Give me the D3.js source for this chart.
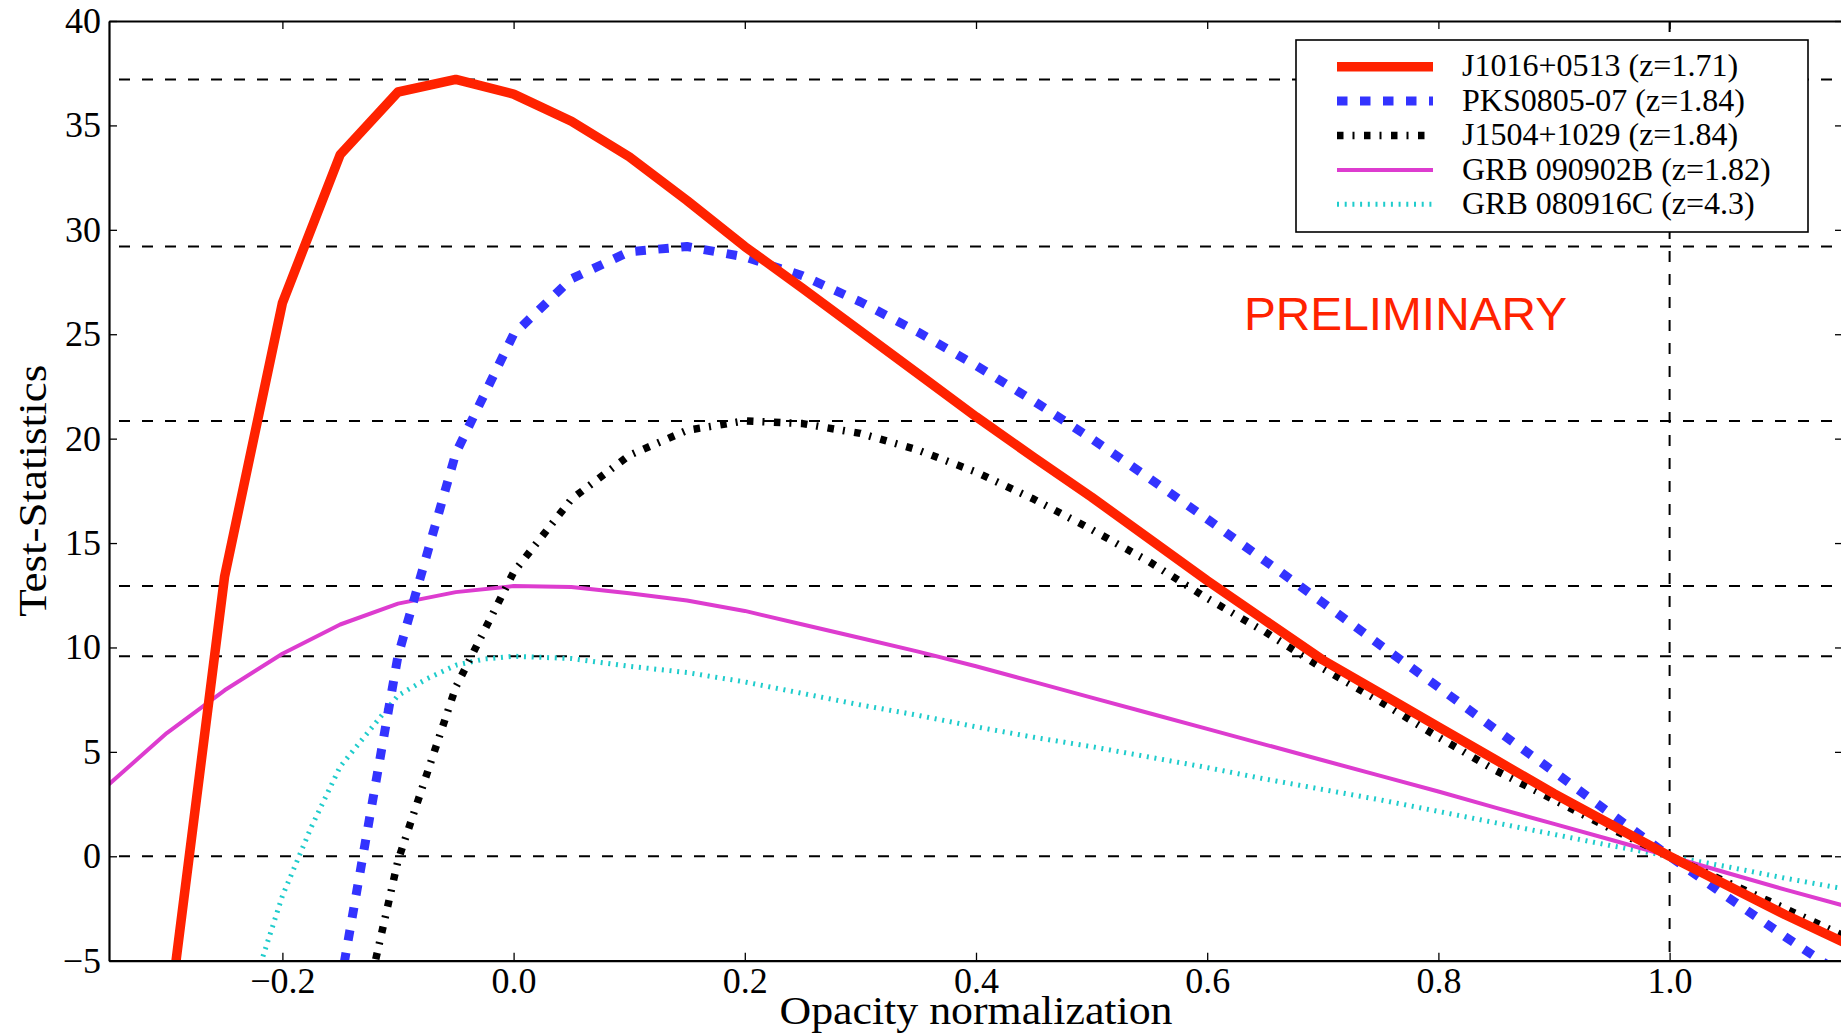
<!DOCTYPE html>
<html>
<head>
<meta charset="utf-8">
<script src="https://cdn.jsdelivr.net/npm/d3@7"></script>
<style>
  html, body { margin: 0; padding: 0; background: #ffffff; }
  svg { display: block; }
</style>
</head>
<body>
<svg id="chart" width="1841" height="1033"></svg>
<script>
// ---------------- DATA ----------------
// Opacity normalization grid shared by four of the curves
const opacity = [-0.35, -0.30, -0.25, -0.20, -0.15, -0.10, -0.05, 0.00, 0.05, 0.10,
                 0.15, 0.20, 0.25, 0.30, 0.35, 0.40, 0.45, 0.50, 0.55, 0.60,
                 0.65, 0.70, 0.75, 0.80, 0.85, 0.90, 0.95, 1.00, 1.05, 1.10, 1.15];

// J1016+0513 (z=1.71)
const tsJ1016 = [null, -8.5, 13.4, 26.5, 33.6, 36.6, 37.2, 36.5, 35.2, 33.5,
                 31.4, 29.2, 27.2, 25.15, 23.1, 21.05, 19.1, 17.2, 15.2, 13.2,
                 11.3, 9.4, 7.8, 6.2, 4.6, 3.0, 1.5, 0.0, -1.4, -2.8, -4.1];

// PKS0805-07 (z=1.84)
const tsPKS0805 = [null, null, null, null, -6.2, 9.6, 19.3, 25.0, 27.65, 28.95,
                   29.2, 28.7, 27.8, 26.55, 25.1, 23.5, 21.8, 20.0, 18.1, 16.15,
                   14.15, 12.15, 10.1, 8.1, 6.05, 4.05, 2.0, 0.0, -1.95, -3.85, -5.7];

// J1504+1029 (z=1.84)
const tsJ1504 = [null, null, null, null, -12.5, -0.2, 8.1, 13.6, 17.1, 19.2,
                 20.4, 20.85, 20.72, 20.25, 19.45, 18.4, 17.1, 15.65, 14.1, 12.35,
                 10.75, 9.0, 7.4, 5.7, 4.1, 2.7, 1.3, 0.0, -1.25, -2.5, -3.8];

// GRB 090902B (z=1.82)
const tsGRB090902B = [3.45, 5.9, 7.95, 9.7, 11.1, 12.1, 12.65, 12.94, 12.9, 12.6,
                      12.25, 11.75, 11.1, 10.45, 9.8, 9.1, 8.35, 7.6, 6.85, 6.1,
                      5.35, 4.6, 3.85, 3.1, 2.32, 1.55, 0.78, 0.0, -0.8, -1.6, -2.35];

// GRB 080916C (z=4.3) has its own, finer grid at the low end
const opacityGRB080916C = [-0.225, -0.20, -0.175, -0.15, -0.125, -0.10, -0.075, -0.05, -0.025,
                           0.00, 0.05, 0.10, 0.15, 0.20, 0.25, 0.30, 0.35, 0.40, 0.45, 0.50,
                           0.55, 0.60, 0.65, 0.70, 0.75, 0.80, 0.85, 0.90, 0.95, 1.00,
                           1.05, 1.10, 1.15];
const tsGRB080916C = [-6.2, -1.9, 1.4, 4.3, 6.0, 7.7, 8.5, 9.15, 9.45,
                      9.58, 9.47, 9.1, 8.8, 8.35, 7.8, 7.25, 6.75, 6.2, 5.7, 5.25,
                      4.75, 4.25, 3.7, 3.2, 2.7, 2.15, 1.6, 1.05, 0.5, 0.0,
                      -0.5, -1.05, -1.55];

const seriesNames = ["J1016+0513 (z=1.71)", "PKS0805-07 (z=1.84)", "J1504+1029 (z=1.84)",
                     "GRB 090902B (z=1.82)", "GRB 080916C (z=4.3)"];

const xTicks = [-0.2, 0.0, 0.2, 0.4, 0.6, 0.8, 1.0];
const yTicks = [-5, 0, 5, 10, 15, 20, 25, 30, 35, 40];
const xDomain = [-0.35, 1.15];
const yDomain = [-5, 40];
const referenceOpacity = 1.0;

// ---------------- STYLES ----------------
const styles = [
  { color: "#ff2200", width: 9.5, dash: null },
  { color: "#3333ff", width: 9,   dash: "10.5,12.5" },
  { color: "#000000", width: 7.5, dash: "6.5,9,2,9.5" },
  { color: "#dd3ccf", width: 4,   dash: null },
  { color: "#1fcccc", width: 5,   dash: "2,5.7" }
];
const serifFont = "'Liberation Serif', 'Times New Roman', serif";

// ---------------- BUILD ----------------
const series = [
  opacity.map((o, i) => [o, tsJ1016[i]]),
  opacity.map((o, i) => [o, tsPKS0805[i]]),
  opacity.map((o, i) => [o, tsJ1504[i]]),
  opacity.map((o, i) => [o, tsGRB090902B[i]]),
  opacityGRB080916C.map((o, i) => [o, tsGRB080916C[i]])
];

const svg = d3.select("#chart");
const plotL = 109, plotR = 1843, plotT = 21, plotB = 960.7;

const x = d3.scaleLinear().domain(xDomain).range([plotL, plotR]);
const y = d3.scaleLinear().domain(yDomain).range([plotB, plotT]);

svg.append("rect").attr("width", 1841).attr("height", 1033).attr("fill", "#ffffff");

svg.append("defs").append("clipPath").attr("id", "plotClip")
  .append("rect").attr("x", plotL).attr("y", plotT)
  .attr("width", plotR - plotL).attr("height", plotB - plotT);

const plot = svg.append("g").attr("clip-path", "url(#plotClip)");

// Horizontal dashed reference lines at each curve maximum and at zero
const hLevels = series.map(s => d3.max(s, d => d[1])).concat([0]);
plot.selectAll("line.hlevel").data(hLevels).enter().append("line")
  .attr("class", "hlevel")
  .attr("x1", x(xDomain[0])).attr("x2", x(xDomain[1]))
  .attr("y1", d => y(d)).attr("y2", d => y(d))
  .attr("stroke", "#000").attr("stroke-width", 2)
  .attr("stroke-dasharray", "11,12").attr("stroke-dashoffset", 13);

// Vertical dashed line at opacity normalization 1
plot.append("line")
  .attr("x1", x(referenceOpacity)).attr("x2", x(referenceOpacity))
  .attr("y1", y(yDomain[1])).attr("y2", y(yDomain[0]))
  .attr("stroke", "#000").attr("stroke-width", 2)
  .attr("stroke-dasharray", "11,12");

// Curves (drawn last-to-first so the legend's first entry is on top)
const line = d3.line()
  .defined(d => d[1] !== null)
  .x(d => x(d[0])).y(d => y(d[1]));

for (let i = series.length - 1; i >= 0; i--) {
  const st = styles[i];
  const p = plot.append("path").datum(series[i])
    .attr("d", line)
    .attr("fill", "none")
    .attr("stroke", st.color)
    .attr("stroke-width", st.width)
    .attr("stroke-linejoin", "round")
    .attr("stroke-linecap", "butt");
  if (st.dash) p.attr("stroke-dasharray", st.dash);
}

// ---------------- AXES ----------------
const fmtX = d3.format(".1f");
const fmtY = d3.format("d");

const axB = svg.append("g").attr("transform", `translate(0,${plotB})`)
  .call(d3.axisBottom(x).tickValues(xTicks).tickFormat(fmtX).tickSize(-8).tickSizeOuter(0).tickPadding(7));
const axT = svg.append("g").attr("transform", `translate(0,${plotT})`)
  .call(d3.axisTop(x).tickValues(xTicks).tickFormat("").tickSize(-8).tickSizeOuter(0));
const axL = svg.append("g").attr("transform", `translate(${plotL},0)`)
  .call(d3.axisLeft(y).tickValues(yTicks).tickFormat(fmtY).tickSize(-8).tickSizeOuter(0).tickPadding(8));
const axR = svg.append("g").attr("transform", `translate(${plotR},0)`)
  .call(d3.axisRight(y).tickValues(yTicks).tickFormat("").tickSize(-8).tickSizeOuter(0));

[axB, axT, axL, axR].forEach(g => {
  g.select(".domain").attr("stroke", "#000").attr("stroke-width", 2.2);
  g.selectAll(".tick line").attr("stroke", "#000").attr("stroke-width", 1.3);
  g.selectAll(".tick text").attr("font-family", serifFont).attr("font-size", 36).attr("fill", "#000");
});

// Axis titles
svg.append("text")
  .attr("x", (plotL + plotR) / 2).attr("y", 1024)
  .attr("text-anchor", "middle")
  .attr("font-family", serifFont).attr("font-size", 40)
  .attr("textLength", 393).attr("lengthAdjust", "spacingAndGlyphs")
  .text("Opacity normalization");

svg.append("text")
  .attr("transform", `translate(46,${(plotT + plotB) / 2}) rotate(-90)`)
  .attr("text-anchor", "middle")
  .attr("font-family", serifFont).attr("font-size", 40)
  .attr("textLength", 252).attr("lengthAdjust", "spacingAndGlyphs")
  .text("Test-Statistics");

// PRELIMINARY watermark
svg.append("text")
  .attr("x", 1244).attr("y", 330)
  .attr("font-family", "'Liberation Sans', Arial, sans-serif").attr("font-size", 47)
  .attr("fill", "#ff2200")
  .attr("textLength", 323).attr("lengthAdjust", "spacingAndGlyphs")
  .text("PRELIMINARY");

// ---------------- LEGEND ----------------
const legend = svg.append("g");
legend.append("rect")
  .attr("x", 1296).attr("y", 40).attr("width", 512).attr("height", 192)
  .attr("fill", "#ffffff").attr("stroke", "#000").attr("stroke-width", 1.6);

seriesNames.forEach((name, i) => {
  const ry = 66.7 + i * 34.4;
  const st = styles[i];
  const l = legend.append("line")
    .attr("x1", 1337).attr("x2", 1433).attr("y1", ry).attr("y2", ry)
    .attr("stroke", st.color).attr("stroke-width", st.width);
  if (st.dash) l.attr("stroke-dasharray", st.dash);
  legend.append("text")
    .attr("x", 1462).attr("y", ry).attr("dy", "0.3em")
    .attr("font-family", serifFont).attr("font-size", 32).attr("fill", "#000")
    .text(name);
});
</script>
</body>
</html>
